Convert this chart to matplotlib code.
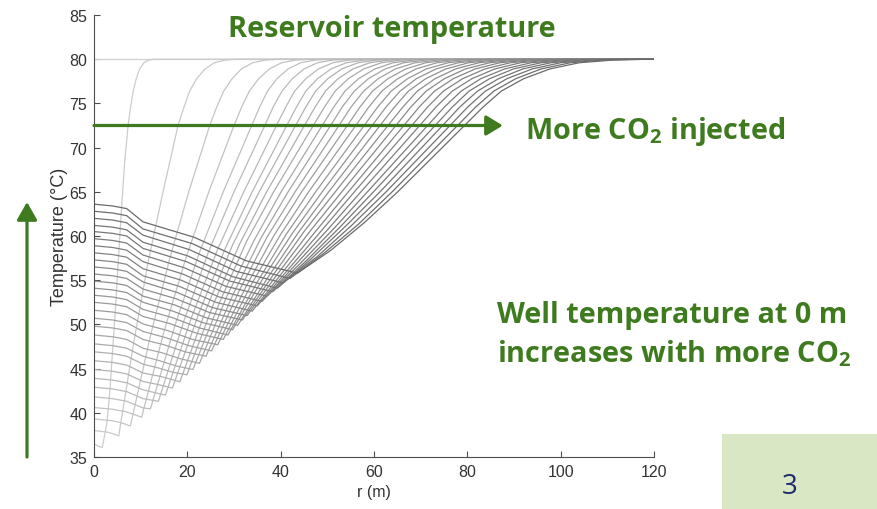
import matplotlib
matplotlib.use('Agg')
import matplotlib.pyplot as plt
from matplotlib.patches import Rectangle

plt.rcParams['font.family'] = ['Liberation Sans', 'DejaVu Sans']
plt.rcParams['mathtext.fontset'] = 'custom'
plt.rcParams['mathtext.rm'] = 'Open Sans'
plt.rcParams['mathtext.bf'] = 'Open Sans:bold'

GREEN = '#3e7a1e'

# radial temperature profiles, least injected CO2 first: r in m, T in degC
profile_r = [
    [0, 1.0, 1.8, 2.8, 3.4, 4.5, 5.3, 6.0, 6.6, 7.3, 7.85, 8.4, 9.05, 9.8, 10.7, 11.7, 12.8, 120],
    [0, 3.0, 5.3, 8.5, 11.6, 14.8, 18.0, 19.3, 20.5, 22.0, 23.8, 25.8, 28.1, 30.6, 120],
    [0, 4.0, 6.0, 7.8, 12.0, 16.2, 20.3, 24.8, 26.3, 27.8, 29.6, 31.6, 34.0, 36.7, 39.7, 120],
    [0, 4.0, 7.0, 10.2, 15.0, 19.8, 24.6, 30.0, 31.65, 33.3, 35.3, 37.6, 40.2, 43.2, 46.5, 120],
    [0, 4, 7, 10.5, 12.1, 17.3, 22.5, 27.7, 33.8, 35.5, 37.2, 39.2, 41.6, 44.3, 47.3, 50.7, 120],
    [0, 4, 7, 10.5, 13.8, 19.2, 24.6, 30.0, 36.6, 38.4, 40.3, 42.5, 45.0, 47.9, 51.2, 54.9, 120],
    [0, 4, 7, 10.5, 15.3, 20.9, 26.5, 32.1, 39.1, 41.1, 43.0, 45.4, 48.1, 51.2, 54.7, 58.7, 120],
    [0, 4, 7, 10.5, 13.7, 16.8, 22.5, 28.2, 33.9, 41.3, 43.4, 45.4, 47.9, 50.8, 54.1, 57.8, 62.0, 120],
    [0, 4, 7, 10.5, 14.4, 18.4, 24.1, 29.7, 35.4, 43.2, 45.4, 47.5, 50.1, 53.1, 56.6, 60.5, 64.8, 120],
    [0, 4, 7, 10.5, 13.6, 16.8, 19.9, 25.6, 31.3, 37.0, 45.1, 47.4, 49.6, 52.3, 55.5, 59.1, 63.1, 67.7, 120],
    [0, 4, 7, 10.5, 14.0, 17.6, 21.2, 27.0, 32.7, 38.5, 47.0, 49.4, 51.7, 54.5, 57.8, 61.6, 65.8, 70.5, 120],
    [0, 4, 7, 10.5, 14.5, 18.6, 22.6, 28.4, 34.3, 40.1, 48.9, 51.4, 53.8, 56.7, 60.2, 64.1, 68.5, 73.4, 120],
    [0, 4, 7, 10.5, 15.0, 19.5, 24.0, 29.9, 35.7, 41.6, 50.7, 53.2, 55.8, 58.8, 62.4, 66.4, 71.0, 76.1, 120],
    [0, 4, 7, 10.5, 15.4, 20.3, 25.2, 31.2, 37.1, 43.1, 52.5, 55.1, 57.8, 60.9, 64.6, 68.8, 73.5, 78.8, 120],
    [0, 4, 7, 10.5, 15.8, 21.1, 26.5, 32.5, 38.5, 44.5, 54.3, 57.0, 59.7, 63.0, 66.8, 71.1, 76.0, 81.5, 120],
    [0, 4, 7, 10.5, 16.2, 22.0, 27.7, 33.8, 39.9, 46.0, 56.1, 58.9, 61.7, 65.1, 69.0, 73.5, 78.5, 84.2, 120],
    [0, 4, 7, 10.5, 16.6, 22.6, 28.7, 35.0, 41.2, 47.5, 57.9, 60.8, 63.7, 67.2, 71.2, 75.9, 81.1, 86.9, 120],
    [0, 4, 7, 10.5, 16.9, 23.3, 29.7, 36.1, 42.5, 48.9, 59.6, 62.6, 65.6, 69.1, 73.3, 78.1, 83.4, 89.4, 120],
    [0, 4, 7, 10.5, 17.3, 24.0, 30.8, 37.3, 43.8, 50.3, 61.3, 64.4, 67.4, 71.1, 75.4, 80.3, 85.8, 92.0, 120],
    [0, 4, 7, 10.5, 17.6, 24.7, 31.8, 38.4, 45.0, 51.7, 63.0, 66.2, 69.3, 73.1, 77.5, 82.5, 88.2, 94.5, 120],
    [0, 4, 7, 10.5, 17.9, 25.4, 32.8, 39.6, 46.3, 53.1, 64.7, 67.9, 71.2, 75.1, 79.6, 84.8, 90.6, 97.1, 120],
    [0, 4, 7, 10.5, 18.3, 26.1, 33.9, 40.7, 47.6, 54.5, 66.4, 69.7, 73.0, 77.0, 81.7, 87.0, 93.0, 99.6, 120],
    [0, 4, 7, 10.5, 18.7, 26.8, 35.0, 41.9, 48.9, 55.8, 68.1, 71.5, 74.9, 79.0, 83.8, 89.2, 95.3, 102.2, 120],
    [0, 4, 7, 10.5, 19.0, 27.5, 36.0, 43.1, 50.2, 57.2, 69.8, 73.3, 76.8, 81.0, 85.9, 91.4, 97.7, 104.7, 120],
    [0, 4, 7, 10.5, 19.4, 28.3, 37.1, 44.3, 51.5, 58.6, 71.5, 75.1, 78.7, 82.9, 88.0, 93.7, 100.1, 107.3, 120],
    [0, 4, 7, 10.5, 19.8, 29.1, 38.3, 45.5, 52.7, 59.9, 73.1, 76.8, 80.4, 84.8, 89.9, 95.8, 102.3, 109.7, 120],
    [0, 4, 7, 10.5, 20.1, 29.7, 39.3, 46.6, 53.9, 61.3, 74.7, 78.4, 82.2, 86.7, 91.9, 97.9, 104.6, 112.1, 120],
    [0, 4, 7, 10.5, 20.5, 30.5, 40.5, 47.9, 55.2, 62.6, 76.3, 80.1, 83.9, 88.5, 93.9, 100.0, 106.8, 114.5, 120],
    [0, 4, 7, 10.5, 21.0, 31.5, 42.0, 49.3, 56.6, 63.9, 77.9, 81.8, 85.7, 90.4, 95.8, 102.1, 109.1, 116.9, 120],
    [0, 4, 7, 10.5, 21.5, 32.6, 43.6, 50.8, 57.9, 65.1, 79.4, 83.4, 87.3, 92.1, 97.7, 104.0, 111.2, 119.1, 120],
]
profile_t = [
    [36.5, 36.2, 36.1, 39.0, 42.5, 51.0, 58.0, 64.0, 68.5, 72.5, 74.6, 76.4, 77.8, 78.9, 79.6, 79.9, 80.0, 80.0],
    [38.0, 37.8, 37.4, 47.9, 57.1, 65.0, 72.5, 74.6, 76.4, 77.8, 78.9, 79.6, 79.9, 80.0, 80.0],
    [39.3, 39.1, 38.85, 38.5, 48.5, 57.4, 65.0, 72.5, 74.6, 76.4, 77.8, 78.9, 79.6, 79.9, 80.0, 80.0],
    [40.6, 40.4, 40.1, 39.5, 49.2, 57.7, 65.0, 72.5, 74.6, 76.4, 77.8, 78.9, 79.6, 79.9, 80.0, 80.0],
    [41.8, 41.6, 41.3, 40.55, 40.45, 49.8, 58.0, 65.0, 72.5, 74.6, 76.4, 77.8, 78.9, 79.6, 79.9, 80.0, 80.0],
    [42.9, 42.7, 42.4, 41.6, 41.3, 50.3, 58.3, 65.0, 72.5, 74.6, 76.4, 77.8, 78.9, 79.6, 79.9, 80.0, 80.0],
    [43.9, 43.7, 43.4, 42.6, 42.0, 50.8, 58.5, 65.0, 72.5, 74.6, 76.4, 77.8, 78.9, 79.6, 79.9, 80.0, 80.0],
    [44.9, 44.7, 44.4, 43.55, 43.2, 42.8, 51.3, 58.7, 65.0, 72.5, 74.6, 76.4, 77.8, 78.9, 79.6, 79.9, 80.0, 80.0],
    [45.9, 45.7, 45.4, 44.5, 44.1, 43.5, 51.8, 59.0, 65.0, 72.5, 74.6, 76.4, 77.8, 78.9, 79.6, 79.9, 80.0, 80.0],
    [46.9, 46.7, 46.4, 45.5, 45.1, 44.6, 44.3, 52.3, 59.2, 65.0, 72.5, 74.6, 76.4, 77.8, 78.9, 79.6, 79.9, 80.0, 80.0],
    [47.8, 47.6, 47.3, 46.4, 45.9, 45.3, 44.9, 52.6, 59.4, 65.0, 72.5, 74.6, 76.4, 77.8, 78.9, 79.6, 79.9, 80.0, 80.0],
    [48.8, 48.6, 48.3, 47.3, 46.8, 46.1, 45.6, 53.1, 59.5, 65.0, 72.5, 74.6, 76.4, 77.8, 78.9, 79.6, 79.9, 80.0, 80.0],
    [49.8, 49.6, 49.3, 48.3, 47.7, 46.9, 46.4, 53.5, 59.7, 65.0, 72.5, 74.6, 76.4, 77.8, 78.9, 79.6, 79.9, 80.0, 80.0],
    [50.7, 50.5, 50.2, 49.2, 48.5, 47.6, 47.0, 53.9, 59.9, 65.0, 72.5, 74.6, 76.4, 77.8, 78.9, 79.6, 79.9, 80.0, 80.0],
    [51.6, 51.4, 51.1, 50.05, 49.3, 48.3, 47.7, 54.2, 60.0, 65.0, 72.5, 74.6, 76.4, 77.8, 78.9, 79.6, 79.9, 80.0, 80.0],
    [52.5, 52.3, 52.0, 50.9, 50.1, 49.0, 48.3, 54.6, 60.1, 65.0, 72.5, 74.6, 76.4, 77.8, 78.9, 79.6, 79.9, 80.0, 80.0],
    [53.3, 53.1, 52.8, 51.7, 50.8, 49.6, 48.8, 54.8, 60.2, 65.0, 72.5, 74.6, 76.4, 77.8, 78.9, 79.6, 79.9, 80.0, 80.0],
    [54.1, 53.9, 53.6, 52.5, 51.5, 50.2, 49.4, 55.1, 60.3, 65.0, 72.5, 74.6, 76.4, 77.8, 78.9, 79.6, 79.9, 80.0, 80.0],
    [54.9, 54.7, 54.4, 53.2, 52.2, 50.75, 49.9, 55.35, 60.4, 65.0, 72.5, 74.6, 76.4, 77.8, 78.9, 79.6, 79.9, 80.0, 80.0],
    [55.7, 55.5, 55.2, 54.0, 52.9, 51.35, 50.5, 55.6, 60.5, 65.0, 72.5, 74.6, 76.4, 77.8, 78.9, 79.6, 79.9, 80.0, 80.0],
    [56.5, 56.3, 56.0, 54.8, 53.6, 51.9, 51.0, 55.9, 60.55, 65.0, 72.5, 74.6, 76.4, 77.8, 78.9, 79.6, 79.9, 80.0, 80.0],
    [57.3, 57.1, 56.8, 55.5, 54.3, 52.5, 51.5, 56.1, 60.6, 65.0, 72.5, 74.6, 76.4, 77.8, 78.9, 79.6, 79.9, 80.0, 80.0],
    [58.1, 57.9, 57.6, 56.3, 55.0, 53.1, 52.1, 56.4, 60.7, 65.0, 72.5, 74.6, 76.4, 77.8, 78.9, 79.6, 79.9, 80.0, 80.0],
    [58.9, 58.7, 58.4, 57.1, 55.7, 53.7, 52.6, 56.7, 60.8, 65.0, 72.5, 74.6, 76.4, 77.8, 78.9, 79.6, 79.9, 80.0, 80.0],
    [59.7, 59.5, 59.2, 57.85, 56.4, 54.3, 53.2, 56.95, 60.9, 65.0, 72.5, 74.6, 76.4, 77.8, 78.9, 79.6, 79.9, 80.0, 80.0],
    [60.5, 60.3, 60.0, 58.6, 57.1, 54.9, 53.7, 57.2, 61.0, 65.0, 72.5, 74.6, 76.4, 77.8, 78.9, 79.6, 79.9, 80.0, 80.0],
    [61.2, 61.0, 60.7, 59.3, 57.75, 55.4, 54.1, 57.45, 61.1, 65.0, 72.5, 74.6, 76.4, 77.8, 78.9, 79.6, 79.9, 80.0, 80.0],
    [62.0, 61.8, 61.5, 60.1, 58.45, 56.0, 54.7, 57.7, 61.2, 65.0, 72.5, 74.6, 76.4, 77.8, 78.9, 79.6, 79.9, 80.0, 80.0],
    [62.8, 62.6, 62.3, 60.8, 59.15, 56.6, 55.2, 58.05, 61.3, 65.0, 72.5, 74.6, 76.4, 77.8, 78.9, 79.6, 79.9, 80.0, 80.0],
    [63.6, 63.4, 63.1, 61.6, 59.85, 57.2, 55.8, 58.4, 61.5, 65.0, 72.5, 74.6, 76.4, 77.8, 78.9, 79.6, 79.9, 80.0, 80.0],
]

# undisturbed reservoir before injection
initial_r = [0, 120]
initial_t = [80, 80]

x_ticks = [0, 20, 40, 60, 80, 100, 120]
y_ticks = [35, 40, 45, 50, 55, 60, 65, 70, 75, 80, 85]

fig = plt.figure(figsize=(8.77, 5.10), dpi=100)
ax = fig.add_axes([94 / 877, 52 / 510, 560 / 877, 442 / 510])

ax.plot(initial_r, initial_t, color='#d0d0d0', lw=0.9)
n = len(profile_r)
for i in range(n):
    g = 0.80 - 0.38 * i / (n - 1)
    ax.plot(profile_r[i], profile_t[i], color=(g, g, g), lw=0.9)

ax.set_xlim(0, 120)
ax.set_ylim(35, 85)
ax.set_xticks(x_ticks)
ax.set_yticks(y_ticks)
for s in ['top', 'right']:
    ax.spines[s].set_visible(False)
for s in ['left', 'bottom']:
    ax.spines[s].set_color('#4d4d4d')
    ax.spines[s].set_linewidth(0.8)
ax.tick_params(direction='in', length=4, width=0.8, color='#4d4d4d',
               labelsize=11.5, labelcolor='#333333', pad=5)
ax.set_xlabel('r (m)', fontsize=11.5, color='#333333', labelpad=4)
ax.set_ylabel('Temperature (°C)', fontsize=13, color='#333333', labelpad=1)

# "more CO2" arrow across the fronts
ax.annotate('', xy=(87.6, 72.5), xytext=(0, 72.5),
            arrowprops=dict(arrowstyle='-|>,head_length=0.56,head_width=0.34',
                            color=GREEN, lw=2.3, shrinkA=0, shrinkB=0,
                            mutation_scale=18),
            annotation_clip=False)

# well temperature arrow left of the axis
fig.add_artist(plt.Annotation('', xy=(27, 307), xytext=(27, 52),
                              xycoords='figure pixels', textcoords='figure pixels',
                              arrowprops=dict(arrowstyle='-|>,head_length=0.6,head_width=0.34',
                                              color=GREEN, lw=2.3, shrinkA=0, shrinkB=0,
                                              mutation_scale=18)))

txt = dict(color=GREEN, fontsize=20.8, fontweight='bold', family=['Open Sans', 'DejaVu Sans'],
           xycoords='figure pixels', ha='left', va='baseline')
fig.add_artist(plt.Annotation('Reservoir temperature', xy=(228, 473), **txt))
fig.add_artist(plt.Annotation(r'More CO$_\mathbf{2}$ injected', xy=(525, 371), **txt))
fig.add_artist(plt.Annotation('Well temperature at 0 m', xy=(497, 187), **txt))
fig.add_artist(plt.Annotation(r'increases with more CO$_\mathbf{2}$', xy=(497, 148), **txt))

# slide number box
fig.add_artist(Rectangle((722 / 877, 0), 155 / 877, 75 / 510, transform=fig.transFigure,
                         facecolor='#d9e7c5', edgecolor='none'))
fig.text(790 / 877, 23 / 510, '3', color='#1f2a6e', fontsize=20, ha='center', va='center',
         family=['Open Sans', 'DejaVu Sans'])

fig.savefig('out.png', dpi=100)
